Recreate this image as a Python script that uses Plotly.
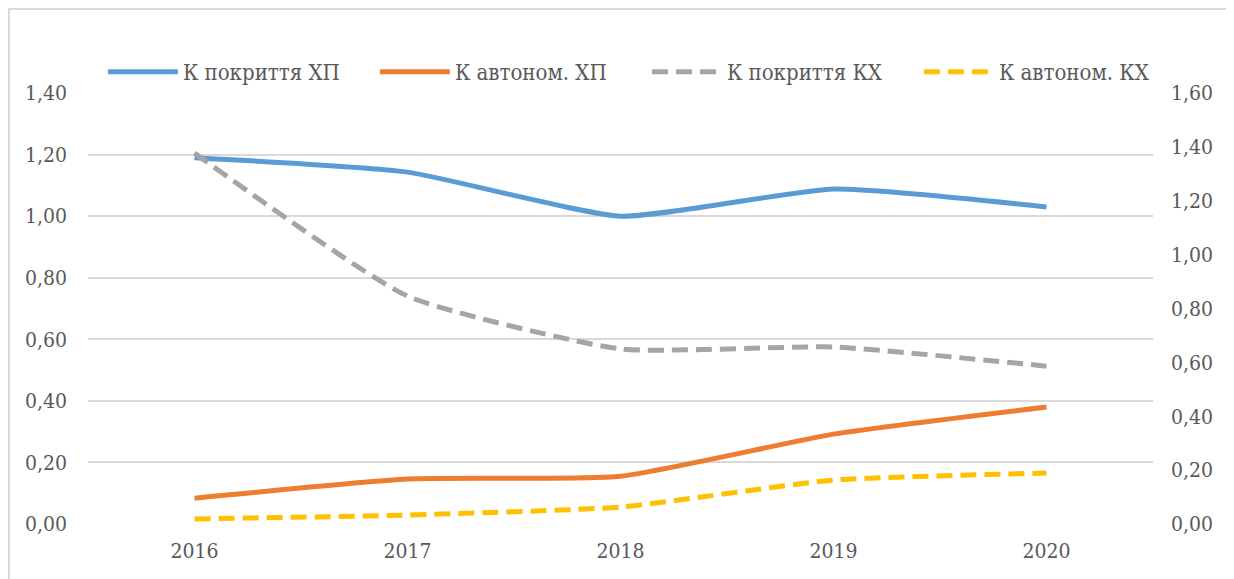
import plotly.graph_objects as go

years = ["2016", "2017", "2018", "2019", "2020"]
k_pokr_xp = [1.19, 1.143, 1.00, 1.088, 1.03]
k_avt_xp = [0.084, 0.146, 0.155, 0.292, 0.38]
k_pokr_kx = [1.377, 0.846, 0.65, 0.657, 0.586]
k_avt_kx = [0.019, 0.033, 0.063, 0.163, 0.189]

names = ["К покриття ХП", "К автоном. ХП", "К покриття КХ", "К автоном. КХ"]
colors = ["#5B9BD5", "#ED7D31", "#A5A5A5", "#FFC000"]

TXT = "#595959"
FONT = "DejaVu Serif Condensed"
FS = 21

fig = go.Figure()
fig.add_trace(go.Scatter(x=years, y=k_pokr_xp, name=names[0], mode="lines",
                         line=dict(color=colors[0], width=5, shape="spline", smoothing=0.5)))
fig.add_trace(go.Scatter(x=years, y=k_avt_xp, name=names[1], mode="lines",
                         line=dict(color=colors[1], width=5, shape="spline", smoothing=0.5)))
fig.add_trace(go.Scatter(x=years, y=k_pokr_kx, name=names[2], mode="lines", yaxis="y2",
                         line=dict(color=colors[2], width=5, dash="16px,8px", shape="spline", smoothing=0.5)))
fig.add_trace(go.Scatter(x=years, y=k_avt_kx, name=names[3], mode="lines", yaxis="y2",
                         line=dict(color=colors[3], width=5, dash="16px,8px", shape="spline", smoothing=0.5)))

O = 8  # page body margin offset
W, H = 1234 - O, 579 - O
L, R, T, B = 88 - O, 81, 93 - O, 55
pw, ph = W - L - R, H - T - B

def px_x(x):
    return (x - O - L) / pw

def px_y(y):
    return (H - B - (y - O)) / ph

fig.update_layout(
    width=W, height=H,
    margin=dict(l=L, r=R, t=T, b=B, pad=0, autoexpand=False),
    paper_bgcolor="white", plot_bgcolor="white",
    separators=", ",
    font=dict(family=FONT, size=FS, color=TXT),
    showlegend=True,
    legend=dict(orientation="h", x=-0.0001, xanchor="left",
                y=px_y(72), yanchor="middle", indentation=15,
                font=dict(family=FONT, size=22, color=TXT),
                entrywidth=172, entrywidthmode="pixels", bgcolor="rgba(0,0,0,0)",
                itemwidth=70),
    xaxis=dict(type="category", range=[-0.5, 4.5], showgrid=False, showline=False,
               zeroline=False, ticks="", tickfont=dict(family=FONT, size=FS, color=TXT),
               ticklabelstandoff=12),
    yaxis=dict(range=[0, 1.4], dtick=0.2, tick0=0, tickformat=".2f", showgrid=True,
               gridcolor="#D9D9D9", gridwidth=1.5, zeroline=False, showline=False, ticks="",
               tickfont=dict(family=FONT, size=FS, color=TXT), ticklabelstandoff=20),
    yaxis2=dict(range=[0, 1.6], dtick=0.2, tick0=0, tickformat=".2f", overlaying="y",
                side="right", showgrid=False, zeroline=False, showline=False, ticks="",
                tickfont=dict(family=FONT, size=FS, color=TXT), ticklabelstandoff=17),
    shapes=[dict(type="rect", xref="paper", yref="paper",
                 x0=px_x(9), x1=px_x(1230), y0=px_y(600), y1=px_y(9),
                 line=dict(color="#D9D9D9", width=2), fillcolor="rgba(0,0,0,0)", layer="below")],
)

fig.write_html("out.html")
